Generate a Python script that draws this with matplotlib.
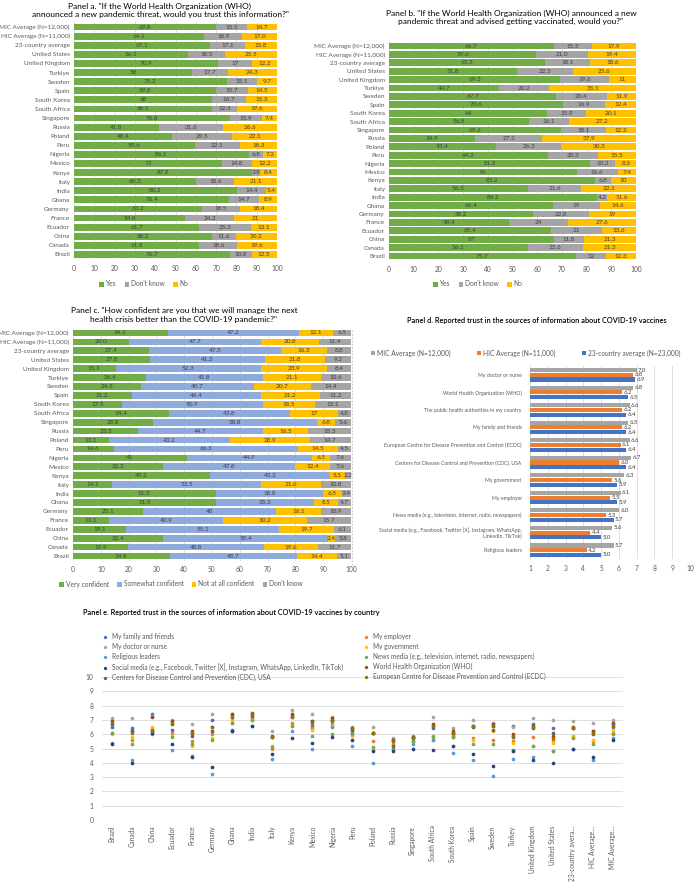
import matplotlib.pyplot as plt
import numpy as np

plt.rcParams['font.family'] = ['Lato', 'DejaVu Sans']

W, H = 694, 894
fig = plt.figure(figsize=(W / 100, H / 100), dpi=100)

TXT = '#595959'
GRID = '#D9D9D9'

# ---------------- data ----------------
bar_cats = ['MIC Average (N=12,000)', 'HIC Average (N=11,000)', '23-country average',
            'United States', 'United Kingdom', 'Turkiye', 'Sweden', 'Spain', 'South Korea',
            'South Africa', 'Singapore', 'Russia', 'Poland', 'Peru', 'Nigeria', 'Mexico',
            'Kenya', 'Italy', 'India', 'Ghana', 'Germany', 'France', 'Ecuador', 'China',
            'Canada', 'Brazil']

# panel a
a_yes = [69.8, 64.1, 67.1, 56.1, 70.9, 58, 75.2, 69.8, 68, 68.1, 76.8, 41.8, 48.4, 59.6,
         86.1, 73, 87.8, 60.3, 80.2, 76.4, 63.2, 54.8, 61.7, 68.2, 61.8, 76.7]
a_dk = [15.5, 18.9, 17.1, 18.5, 17, 17.7, 15.1, 15.7, 16.7, 12.3, 15.9, 31.6, 29.5, 22.1,
        6.8, 14.8, 3.8, 18.6, 14.4, 14.7, 18.5, 24.2, 25.3, 11.6, 18.6, 10.8]
a_no = [14.7, 17.0, 15.8, 25.5, 12.2, 24.3, 9.7, 14.5, 15.3, 19.6, 7.4, 26.6, 22.1, 18.3,
        7.2, 12.2, 8.4, 21.1, 5.4, 8.9, 18.4, 21, 13.1, 20.2, 19.6, 12.5]

# panel b
b_yes = [66.7, 59.6, 63.3, 51.8, 69.3, 44.7, 67.7, 70.6, 64, 56.8, 69.6, 34.9, 43.4, 64.2,
         81.5, 76, 83.2, 56.3, 84.2, 66.4, 58.2, 48.4, 65.4, 67, 56.1, 75.7]
b_dk = [15.5, 21.0, 18.1, 22.5, 19.6, 20.2, 20.4, 16.9, 15.9, 16.1, 18.1, 27.2, 26.3, 20.3,
        10.2, 16.6, 6.8, 21.6, 4.2, 19, 22.8, 24, 21, 11.8, 22.6, 12]
b_no = [17.9, 19.4, 18.6, 25.6, 11, 35.1, 11.9, 12.4, 20.1, 27.2, 12.2, 37.9, 30.3, 15.5,
        8.3, 7.4, 10, 22.1, 11.6, 14.6, 19, 27.6, 13.6, 21.3, 21.3, 12.3]

# panel c
c_very = [34.2, 20.0, 27.4, 27.8, 15.3, 26.4, 24.3, 21.2, 17.5, 34.4, 28.8, 23.5, 13.1, 14.6,
          41, 32.2, 49.2, 14.1, 51.3, 51.5, 25.1, 13.1, 19.1, 32.4, 19.9, 34.8]
c_some = [47.2, 47.7, 47.5, 41.2, 52.3, 41.8, 40.7, 46.4, 50.9, 43.8, 58.8, 44.7, 43.2, 66.3,
          44.9, 47.8, 43.2, 53.5, 38.8, 35.3, 48, 40.9, 55.1, 59.4, 48.8, 45.7]
c_not = [12.1, 20.8, 16.3, 21.8, 23.9, 21.1, 20.7, 21.2, 18.5, 17, 6.8, 16.5, 28.9, 14.5,
         6.5, 12.4, 5.5, 21.6, 6.5, 8.5, 16.1, 30.2, 19.7, 2.4, 19.6, 14.4]
c_dk = [6.5, 11.4, 8.8, 9.2, 8.4, 10.6, 14.4, 11.2, 13.1, 4.8, 5.6, 15.3, 14.7, 4.5,
        7.6, 7.6, 2.2, 10.8, 3.4, 4.7, 10.9, 15.7, 6.1, 5.8, 11.7, 5.1]

# panel d
d_cats = ['My doctor or nurse', 'World Health Organization (WHO)',
          'The public health authorities in my country', 'My family and friends',
          'European Centre for Disease Prevention and Control (ECDC)',
          'Centers for Disease Control and Prevention (CDC), USA', 'My government',
          'My employer', 'News media (e.g., television, internet, radio, newspapers)',
          'Social media (e.g., Facebook, Twitter [X], Instagram, WhatsApp,\nLinkedIn, TikTok)',
          'Religious leaders']
d_mic = [7.0, 6.8, 6.6, 6.5, 6.6, 6.7, 6.3, 6.1, 6.0, 5.6, 5.7]
d_hic = [6.8, 6.2, 6.2, 6.2, 6.1, 6.0, 5.6, 5.5, 5.3, 4.4, 4.2]
d_all = [6.9, 6.5, 6.4, 6.4, 6.4, 6.4, 5.9, 5.9, 5.7, 5.0, 5.0]

# panel e
e_cats = ['Brazil', 'Canada', 'China', 'Ecuador', 'France', 'Germany', 'Ghana', 'India',
          'Italy', 'Kenya', 'Mexico', 'Nigeria', 'Peru', 'Poland', 'Russia', 'Singapore',
          'South Africa', 'South Korea', 'Spain', 'Sweden', 'Turkey', 'United Kingdom',
          'United States', '23-country avera...', 'HIC Average...', 'MIC Average...']
e_family = [6.5, 6.4, 7.4, 6.3, 6.1, 7.0, 6.3, 7.1, 5.8, 7.2, 6.6, 6.9, 6.1, 6.1, 5.6, 5.7,
            6.4, 6.0, 6.6, 6.6, 6.6, 6.7, 6.4, 6.4, 6.2, 6.5]
e_employer = [6.1, 5.6, 6.4, 6.1, 5.5, 6.0, 6.8, 7.0, 5.0, 6.8, 6.4, 6.7, 6.3, 5.5, 5.3, 5.5,
              5.9, 5.9, 5.7, 5.6, 5.5, 5.8, 5.6, 5.9, 5.5, 6.1]
e_doctor = [7.1, 7.1, 7.3, 7.0, 6.7, 7.4, 7.4, 7.4, 6.2, 7.7, 7.4, 7.2, 6.5, 6.5, 5.7, 5.9,
            7.2, 6.4, 7.0, 6.8, 6.5, 7.1, 7.0, 6.9, 6.8, 7.0]
e_government = [6.0, 5.8, 6.5, 5.9, 5.2, 5.7, 7.0, 7.2, 5.2, 6.6, 6.3, 6.6, 5.9, 5.0, 5.2, 5.7,
                5.6, 5.8, 5.6, 6.2, 5.4, 5.2, 5.4, 5.9, 5.6, 6.3]
e_religious = [5.4, 4.2, 6.0, 4.9, 4.5, 3.2, 6.2, 6.6, 4.3, 6.2, 5.0, 6.5, 5.2, 4.0, 5.0, 5.3,
               5.6, 4.7, 4.2, 3.1, 4.3, 4.4, 4.8, 5.0, 4.2, 5.7]
e_news = [6.1, 5.3, 6.2, 5.8, 5.3, 5.6, 6.8, 7.0, 5.1, 6.6, 5.9, 6.0, 6.0, 5.1, 5.0, 5.5,
          5.8, 5.8, 5.3, 5.3, 4.9, 5.2, 4.8, 5.7, 5.3, 6.0]
e_social = [5.3, 4.0, 6.1, 5.3, 4.4, 3.7, 6.2, 6.6, 4.6, 5.7, 5.4, 5.8, 5.6, 4.8, 4.8, 5.0,
            4.9, 5.2, 4.6, 3.8, 4.8, 4.2, 4.0, 5.0, 4.4, 5.6]
e_who = [6.9, 6.2, 7.2, 6.9, 6.2, 6.5, 7.4, 7.5, 5.9, 7.4, 6.9, 7.1, 6.4, 6.1, 5.6, 5.8,
         6.7, 6.2, 6.6, 6.7, 6.0, 6.6, 5.9, 6.5, 6.2, 6.8]
e_cdc = [6.7, 6.2, 6.2, 6.7, 5.9, 6.2, 7.2, 7.3, 5.8, 7.3, 6.9, 7.0, 6.3, 6.1, 5.2, 5.8,
         6.6, 6.1, 6.5, 6.3, 5.8, 6.4, 6.1, 6.4, 6.0, 6.7]
e_ecdc = [6.8, 6.1, 6.3, 6.8, 6.1, 6.5, 7.2, 7.4, 5.8, 7.2, 6.8, 7.0, 6.4, 6.1, 5.5, 5.7,
          6.6, 6.1, 6.6, 6.6, 5.9, 6.5, 5.7, 6.4, 6.1, 6.6]


def add_ax(l, t, r, b):
    return fig.add_axes([l / W, 1 - b / H, (r - l) / W, (b - t) / H])


def fmt(i, v):
    # averages are printed with one decimal, countries as is
    return f'{v:.1f}' if i < 3 else f'{v:g}'


def stacked(ax, series, names, colors, height, lx, ly):
    y = np.arange(len(bar_cats))
    left = np.zeros(len(bar_cats))
    for vals, n, c in zip(series, names, colors):
        vals = np.array(vals, dtype=float)
        bars = ax.barh(y, vals, left=left, height=height, color=c, label=n, zorder=2)
        ax.bar_label(bars, labels=[fmt(i, v) for i, v in enumerate(vals)],
                     label_type='center', fontsize=4.6, color='#404040')
        left += vals
    ax.set_yticks(y)
    ax.set_yticklabels(bar_cats, fontsize=4.6, color=TXT)
    ax.set_ylim(len(bar_cats) - 0.5, -0.5)
    ax.set_xlim(0, 100)
    ax.set_xticks(range(0, 101, 10))
    ax.tick_params(axis='x', labelsize=4.8, colors=TXT, length=0, pad=4)
    ax.tick_params(axis='y', length=0, pad=3)
    ax.grid(axis='x', color=GRID, lw=0.6, zorder=0)
    for s in ax.spines.values():
        s.set_visible(False)
    ax.legend(loc='center', bbox_to_anchor=(lx / W, 1 - ly / H), bbox_transform=fig.transFigure,
              ncol=len(series), frameon=False, fontsize=4.8, handlelength=0.7, handleheight=0.7,
              handletextpad=0.3, columnspacing=1.2, labelcolor=TXT)


GREEN, GREY, YEL, LBLUE = '#70AD47', '#A5A5A5', '#FFC000', '#8FAADC'

# panel a
ax_a = add_ax(74, 22.5, 277, 259)
stacked(ax_a, [a_yes, a_dk, a_no], ['Yes', "Don't know", 'No'], [GREEN, GREY, YEL], 0.75, 144, 284)
fig.text(160 / W, 1 - 10.5 / H,
         'Panel a. "If the World Health Organization (WHO)\n'
         'announced a new pandemic threat, would you trust this information?"',
         ha='center', va='center', fontsize=6, linespacing=1.2)

# panel b
ax_b = add_ax(389, 41.8, 636, 260.2)
stacked(ax_b, [b_yes, b_dk, b_no], ['Yes', "Don't know", 'No'], [GREEN, GREY, YEL], 0.8, 478, 284)
fig.text(511 / W, 1 - 17.5 / H,
         'Panel b. "If the World Health Organization (WHO) announced a new\n'
         'pandemic threat and advised getting vaccinated, would you?"',
         ha='center', va='center', fontsize=6, linespacing=1.2)

# panel c
ax_c = add_ax(73, 328.5, 351, 560.5)
stacked(ax_c, [c_very, c_some, c_not, c_dk],
        ['Very confident', 'Somewhat confident', 'Not at all confident', "Don't know"],
        [GREEN, LBLUE, YEL, GREY], 0.75, 181, 584)
fig.text(184 / W, 1 - 315 / H,
         'Panel c. "How confident are you that we will manage the next\n'
         'health crisis better than the COVID-19 pandemic?"',
         ha='center', va='center', fontsize=6, linespacing=1.2)

# panel d
ax_d = add_ax(530, 366, 690, 559)
yd = np.arange(len(d_cats))
h = 0.27
for off, vals, c, n in [(-h, d_mic, '#A5A5A5', 'MIC Average (N=12,000)'),
                        (0, d_hic, '#ED7D31', 'HIC Average (N=11,000)'),
                        (h, d_all, '#4472C4', '23-country average (N=23,000)')]:
    vals = np.array(vals)
    bars = ax_d.barh(yd + off, vals - 1, left=1, height=h * 0.85, color=c, label=n, zorder=2)
    ax_d.bar_label(bars, labels=[f'{v:.1f}' for v in vals], padding=1, fontsize=4.3, color='#404040')
ax_d.set_xlim(1, 10)
ax_d.set_ylim(len(d_cats) - 0.5, -0.5)
ax_d.set_xticks(range(1, 11))
ax_d.set_yticks(yd)
ax_d.set_yticklabels(d_cats, fontsize=3.7, color=TXT, linespacing=1.1)
ax_d.tick_params(axis='x', labelsize=4.8, colors=TXT, length=0, pad=4)
ax_d.tick_params(axis='y', length=0, pad=6)
ax_d.grid(axis='x', color=GRID, lw=0.6, zorder=0)
for s in ax_d.spines.values():
    s.set_visible(False)
ax_d.legend(loc='center', bbox_to_anchor=(526 / W, 1 - 353 / H), bbox_transform=fig.transFigure,
            ncol=3, frameon=False, fontsize=4.8, handlelength=0.5, handleheight=0.5,
            handletextpad=0.4, columnspacing=4, labelcolor=TXT)
fig.text(537 / W, 1 - 321 / H,
         'Panel d. Reported trust in the sources of information about COVID-19 vaccines',
         ha='center', va='center', fontsize=5.3, fontweight='semibold')
fig.add_artist(plt.Line2D([352 / W, 352 / W], [1 - 330 / H, 1 - 570 / H], color='#BFBFBF',
                          lw=0.6, ls=(0, (2, 2))))

# panel e
ax_e = add_ax(102, 677, 623, 820)
xe = np.arange(len(e_cats))
e_series = [('My family and friends', e_family, '#4472C4'),
            ('My employer', e_employer, '#ED7D31'),
            ('My doctor or nurse', e_doctor, '#A5A5A5'),
            ('My government', e_government, '#FFC000'),
            ('Religious leaders', e_religious, '#5B9BD5'),
            ('News media (e.g., television, internet, radio, newspapers)', e_news, '#70AD47'),
            ('Social media (e.g., Facebook, Twitter [X], Instagram, WhatsApp, LinkedIn, TikTok)',
             e_social, '#264478'),
            ('World Health Organization (WHO)', e_who, '#9E480E'),
            ('Centers for Disease Control and Prevention (CDC), USA', e_cdc, '#636363'),
            ('European Centre for Disease Prevention and Control (ECDC)', e_ecdc, '#997300')]
handles = {}
for n, vals, c in e_series:
    handles[n] = ax_e.scatter(xe, vals, s=7, color=c, label=n, zorder=3, linewidths=0)
ax_e.set_xlim(-0.5, len(e_cats) - 0.5)
ax_e.set_ylim(0, 10)
ax_e.set_yticks(range(0, 11))
ax_e.set_xticks(xe)
ax_e.set_xticklabels(e_cats, rotation=90, fontsize=4.8, color=TXT)
ax_e.tick_params(axis='y', labelsize=4.8, colors=TXT, length=0, pad=6)
ax_e.tick_params(axis='x', length=0, pad=4)
ax_e.grid(axis='y', color=GRID, lw=0.6, zorder=0)
for s in ax_e.spines.values():
    s.set_visible(False)
order = [0, 2, 4, 6, 8, 1, 3, 5, 7, 9]
ax_e.legend([handles[e_series[i][0]] for i in order], [e_series[i][0] for i in order],
            loc='upper left', bbox_to_anchor=(98 / W, 1 - 633 / H), bbox_transform=fig.transFigure,
            ncol=2, frameon=False, fontsize=4.7, handletextpad=0.1, columnspacing=2.6,
            labelspacing=0.45, markerscale=0.9, labelcolor=TXT, borderaxespad=0, borderpad=0)
fig.text(83 / W, 1 - 612 / H,
         'Panel e. Reported trust in the sources of information about COVID-19 vaccines by country',
         ha='left', va='center', fontsize=5.3, fontweight='semibold')

fig.savefig('out.png', dpi=100)
